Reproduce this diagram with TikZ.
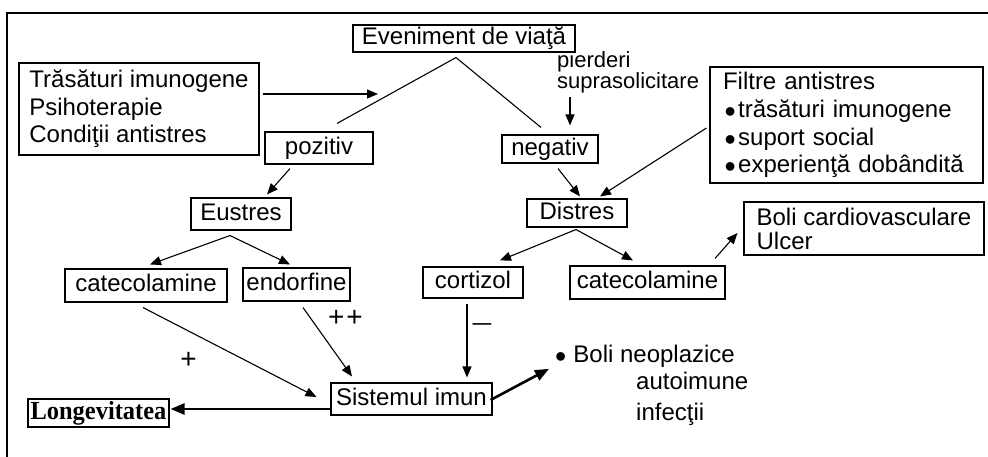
\documentclass[tikz,border=0pt]{standalone}
\usepackage{graphicx}
\usepackage{fontspec}
\setmainfont{Liberation Sans}
\newfontfamily\lonfont{Liberation Serif}
\usetikzlibrary{arrows.meta,calc}
% a round list bullet sitting at mid x-height
\newcommand\fbul{\raisebox{-5pt}{\fontsize{32}{0}\selectfont\textbullet}}

\begin{document}
\begin{tikzpicture}[x=1pt,y=-1pt,
  every node/.style={font=\fontsize{24}{27.5}\selectfont, inner sep=0pt},
  box/.style={draw, line width=1.1pt, text height=17.5pt, text depth=5pt},
  multibox/.style={draw, line width=1.1pt, align=left},
  sign/.style={font=\fontsize{28}{28}\selectfont},
  link/.style={line width=1.1pt},
  arr/.style={line width=1.1pt, -{Triangle[length=11pt,width=9pt]}},
  thickarr/.style={line width=2.6pt, -{Triangle[length=14pt,width=11pt]}},
]
\useasboundingbox (0,0) rectangle (988,457);

% frame
\draw[line width=1.3pt] (7,457) -- (7,13) -- (988,13);

% boxes
\node[box, minimum width=222pt, minimum height=27pt] (ev) at (464,38.5) {Eveniment de viaţă};
\node[multibox, minimum width=240pt, minimum height=92pt] (tr) at (139,109)
  {Trăsături imunogene\\Psihoterapie\\Condiţii antistres};
\node[box, minimum width=108pt, minimum height=32pt] (poz) at (319,148) {pozitiv};
\node[box, minimum width=96pt, minimum height=28pt] (neg) at (550,149) {negativ};
\node[box, minimum width=100pt, minimum height=32pt] (eus) at (241,214) {Eustres};
\node[box, minimum width=100pt, minimum height=28pt] (dis) at (577,213) {Distres};
\node[box, minimum width=162pt, minimum height=33pt] (cat1) at (146,285.5) {catecolamine};
\node[box, minimum width=107pt, minimum height=33pt] (endo) at (296.5,284.5) {endorfine};
\node[box, minimum width=100pt, minimum height=31pt] (cort) at (473,282.5) {cortizol};
\node[box, minimum width=155pt, minimum height=33pt] (cat2) at (647.5,282.5) {catecolamine};
\node[box, minimum width=161pt, minimum height=32pt] (sis) at (411.5,399) {Sistemul imun};
\node[draw, line width=1.1pt, font=\fontsize{26}{28}\selectfont\lonfont\bfseries,
  minimum width=141pt, minimum height=28pt] (lon) at (98.5,413)
  {\scalebox{0.94}[1]{Longevitatea}};

\node[draw, line width=1.1pt, align=left, text width=247pt, inner xsep=13pt,
  minimum height=116pt, font=\fontsize{24}{27.7}\selectfont] (fil) at (846.5,125)
  {Filtre antistres\\
   \hspace*{1.5pt}\fbul\hspace{2.5pt}trăsături imunogene\\
   \hspace*{1.5pt}\fbul\hspace{2.5pt}suport social\\
   \hspace*{1.5pt}\fbul\hspace{2.5pt}experienţă dobândită};
\node[multibox, minimum width=240pt, minimum height=53pt,
  font=\fontsize{24}{24}\selectfont] (boli) at (864,228.5)
  {Boli cardiovasculare\\Ulcer};

% free text
\node[align=left, anchor=west, font=\fontsize{22}{21}\selectfont] (pier) at (557,72.5)
  {pierderi\\suprasolicitare};
\node[anchor=base west] (neo) at (555,362) {\fbul\hspace{7pt}Boli neoplazice};
\node[anchor=base west] (auto) at (636,389) {autoimune};
\node[anchor=base west] (inf) at (636,420) {infecţii};

\node[sign] (p1) at (188.5,360) {+};
\node[sign] (p2) at (345.5,318) {+\kern2pt+};
\node (m1) at (482,327) {\scalebox{1.4}[1]{–}};

% connectors
\coordinate (apex) at ($(ev.south)+(-8,5)$);
\draw[link] (apex) -- ($(poz.north)+(18,-8)$);
\draw[link] (apex) -- ($(neg.north)+(-9,-7)$);
\coordinate (trtip) at (378,94);
\draw[arr] ($(tr.east)+(3,-15)$) -- (trtip);
\draw[arr] ($(pier.south west)+(13,4)$) -- ($(neg.north)+(20,-9)$);
\draw[arr] ($(poz.south)+(-29,4)$) -- ($(eus.north)+(26,-3)$);
\draw[arr] ($(neg.south)+(8,5)$) -- ($(dis.north)+(3,-2)$);
\draw[arr] ($(fil.west)+(-3,3)$) -- ($(dis.north)+(23,-2)$);
\coordinate (eapex) at ($(eus.south)+(-11,5)$);
\draw[arr] (eapex) -- ($(cat1.north)+(4,-4)$);
\draw[arr] (eapex) -- ($(endo.north)+(-6.5,-3)$);
\coordinate (dapex) at ($(dis.south)+(-1,2)$);
\draw[arr] (dapex) -- ($(cort.north)+(27,-6)$);
\draw[arr] (dapex) -- ($(cat2.north)+(-14.5,-5)$);
\draw[arr] ($(cat2.north)+(67.5,-7)$) -- ($(boli.west)+(-6,4.5)$);
\draw[arr] ($(cat1.south)+(-3,5)$) -- ($(sis.west)+(-14,-2)$);
\draw[arr] ($(endo.south)+(6.5,6)$) -- ($(sis.north)+(-59.5,-6)$);
\draw[arr] ($(cort.south)+(-6,5)$) -- ($(sis.north)+(55.5,-5)$);
\draw[thickarr] ($(sis.west)+(0,10)$) -- ($(lon.east)+(1,-4)$);
\draw[thickarr] ($(sis.east)+(-2,1)$) -- ($(neo.west)+(-6,13)$);
\end{tikzpicture}
\end{document}
